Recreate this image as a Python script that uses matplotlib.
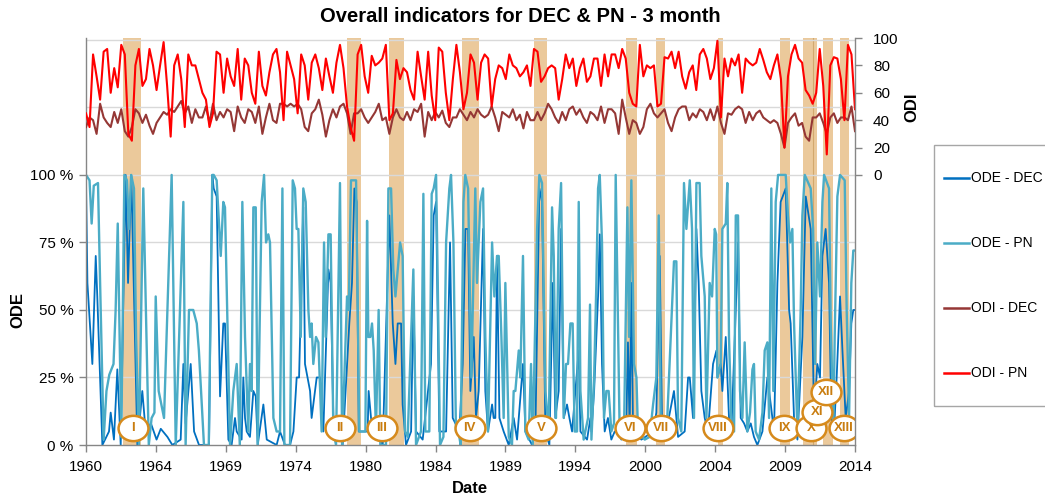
import numpy as np
import matplotlib
matplotlib.use("Agg")
import matplotlib.pyplot as plt
from matplotlib.path import Path
from matplotlib.transforms import Affine2D
from matplotlib.lines import Line2D
from matplotlib.patches import Rectangle

plt.rcParams['font.family'] = ['Liberation Sans', 'DejaVu Sans']

# ---------------- data ----------------
x_min, x_max = 1960.0, 2014.5
tick_labels = ["1960", "1964", "1969", "1974", "1980", "1984", "1989",
               "1994", "2000", "2004", "2009", "2014"]
ode_ticks = [0, 25, 50, 75, 100]
odi_ticks = [0, 20, 40, 60, 80, 100]

# ODI series, quarterly samples starting 1960 Q1
odi_start, odi_step = 1960.0, 0.25
odi_pn = [45,35,88,72,55,90,92,60,78,64, 95,88,30,25,80,92,65,70,92,80,
          62,80,97,65,28,80,88,70,35,88, 80,80,70,60,55,35,45,90,88,60,
          85,72,65,92,55,85,80,60,52,90, 65,58,75,88,92,75,40,90,80,70,
          45,88,80,55,82,88,78,62,85,72, 60,82,95,78,
          50,35,25,88,95,72,60,87,80,82, 85,95,40,45,84,70,78,75,62,55,
          90,72,55,90,58,40,93,90,60,40, 70,95,75,48,60,88,82,55,82,88,
          85,50,70,80,78,70,88,80,78,72, 75,80,65,92,90,68,72,78,80,78,
          55,70,88,78,85,65,78,85,68,72, 85,85,
          65,88,72,88,88,78,92,85,60,52, 50,95,72,80,78,80,50,52,86,85,
          90,78,90,72,63,75,80,62,88,92, 85,70,78,98,42,85,72,85,80,88,
          60,85,82,80,82,92,84,75,70,80, 88,70,20,72,88,95,85,82,62,58,
          52,60,92,65,15,80,86,85,70,40, 95,88,48]
odi_dec = [35,42,40,30,52,42,38,35,46,38, 48,32,28,35,48,45,38,44,36,30,
           38,42,46,44,48,46,50,54,45,50, 38,48,42,42,50,38,52,40,46,42,
           48,46,32,50,42,38,48,46,38,50, 30,42,52,40,38,52,52,50,52,50,
           52,48,35,32,45,48,55,44,28,40, 48,42,50,52,
           45,30,45,45,48,42,38,42,46,52, 40,42,30,42,48,42,40,46,40,48,
           46,52,28,46,40,46,42,47,38,35, 42,42,48,44,40,46,42,48,44,42,
           44,50,42,32,46,44,42,48,40,44, 34,46,40,40,46,40,45,52,48,42,
           38,46,40,48,50,44,48,42,38,46, 44,40,
           50,38,48,48,45,30,55,42,30,40, 38,30,35,48,52,45,42,45,48,38,
           32,42,48,50,50,40,45,42,48,46, 40,48,40,50,38,30,45,44,48,50,
           48,38,46,40,45,47,42,40,38,40, 38,30,20,38,42,45,36,38,28,25,
           42,42,45,38,30,42,45,38,42,42, 40,50,32]

# ODE series (decimal year, percent)
ode_pn = [(1960.00,100),(1960.25,98),(1960.40,82),(1960.55,96),(1960.85,97),(1961.00,60),
          (1961.25,2),(1961.45,20),(1961.65,26),(1961.95,30),(1962.10,50),(1962.25,82),
          (1962.50,3),(1962.72,100),(1962.90,98),(1963.05,80),(1963.20,100),(1963.40,95),
          (1963.55,40),(1963.75,0),(1964.06,95),(1964.45,0),(1964.65,10),(1964.85,12),
          (1964.94,55),(1965.15,20),(1965.53,10),(1966.07,100),(1966.36,0),(1966.90,90),
          (1967.06,0),(1967.30,50),(1967.60,50),(1967.85,45),(1968.00,35),(1968.36,0),
          (1968.70,0),(1968.95,100),
          (1969.05,100),(1969.26,98),(1969.55,70),(1969.73,90),(1969.85,88),(1970.21,0),
          (1970.44,20),(1970.68,30),(1970.90,0),(1971.08,90),(1971.27,40),(1971.50,5),
          (1971.62,30),(1971.74,20),(1971.86,88),(1972.03,88),(1972.17,0),(1972.45,90),
          (1972.62,100),(1972.76,75),(1972.92,78),(1973.04,75),(1973.28,10),(1973.51,5),
          (1973.75,5),(1973.92,95),(1974.06,0),(1974.46,0),(1974.65,98),(1974.81,95),
          (1974.93,80),(1975.05,80),(1975.22,40),(1975.40,95),(1975.57,90),(1975.76,50),
          (1975.88,40),(1975.99,45),(1976.11,30),(1976.30,40),(1976.47,38),(1976.70,5),
          (1976.87,75),(1976.99,40),(1977.18,78),(1977.34,78),(1977.53,5),(1977.72,0),
          (1978.00,97),(1978.15,0),(1978.50,55),(1978.62,50),(1978.78,98),(1979.14,98),
          (1979.26,50),(1979.37,5),(1979.80,5),(1979.92,83),(1980.01,40),(1980.15,40),
          (1980.27,45),(1980.39,35),(1980.55,5),(1980.74,50),(1980.86,0),(1981.26,0),
          (1981.43,95),(1981.62,95),(1981.78,65),(1981.93,55),(1982.26,75),(1982.44,70),
          (1982.61,5),(1982.80,3),(1983.20,65),(1983.39,0),(1983.74,5),(1983.91,93),
          (1984.05,5),(1984.33,5),(1984.50,93),(1984.64,95),(1984.81,100),(1984.93,60),
          (1985.09,0),(1985.33,3),(1985.52,75),(1985.75,95),(1985.87,100),(1986.04,75),
          (1986.22,5),(1986.40,5),(1986.55,0),(1986.75,90),(1986.88,100),
          (1987.08,95),(1987.31,25),(1987.59,95),(1987.71,60),(1987.95,90),(1988.14,95),
          (1988.30,40),(1988.49,5),(1988.78,75),(1988.94,55),(1989.13,70),(1989.25,70),
          (1989.44,40),(1989.60,10),(1989.72,60),(1989.96,3),(1990.19,0),(1990.31,20),
          (1990.43,20),(1990.67,35),(1990.78,25),(1990.97,70),(1991.14,5),(1991.37,2),
          (1991.54,30),(1991.66,0),(1991.97,80),(1992.13,100),(1992.32,97),(1992.56,20),
          (1992.79,5),(1993.03,88),(1993.15,70),(1993.31,10),(1993.50,80),(1993.67,97),
          (1993.86,10),(1994.02,30),(1994.16,30),(1994.33,45),(1994.49,45),(1994.63,5),
          (1994.80,5),(1994.92,90),(1995.04,20),(1995.27,2),(1995.58,10),(1995.72,52),
          (1995.82,2),(1996.01,25),(1996.17,60),(1996.29,95),(1996.41,100),(1996.57,75),
          (1996.71,10),(1996.88,20),(1997.04,20),(1997.23,5),(1997.42,8),(1997.54,100),
          (1997.66,60),(1997.82,5),(1998.13,5),(1998.37,88),(1998.49,40),(1998.65,98),
          (1998.84,30),(1999.01,25),(1999.12,5),(1999.60,2),(1999.95,3),(2000.19,15),
          (2000.42,25),(2000.59,85),(2000.73,10),(2000.90,3),(2001.13,2),(2001.67,68),
          (2001.84,68),(2001.96,10),(2002.19,5),(2002.38,97),(2002.55,80),(2002.79,98),
          (2002.95,80),(2003.09,10),(2003.26,97),(2003.49,97),(2003.61,70),(2003.85,55),
          (2003.97,10),(2004.20,60),(2004.37,55),(2004.56,80),(2004.66,78),
          (2004.75,25),(2004.98,30),(2005.10,80),(2005.34,82),(2005.45,97),(2005.57,40),
          (2005.74,8),(2005.93,5),(2006.05,85),(2006.21,85),(2006.35,20),(2006.52,10),
          (2006.68,38),(2006.87,5),(2007.06,12),(2007.23,28),(2007.34,30),(2007.46,5),
          (2007.70,2),(2007.94,12),(2008.10,35),(2008.29,38),(2008.41,10),(2008.57,95),
          (2008.71,20),(2008.88,90),(2009.05,100),(2009.59,100),(2009.75,85),(2009.90,75),
          (2010.06,80),(2010.18,45),(2010.42,5),(2010.65,50),(2010.77,85),(2010.94,100),
          (2011.36,95),(2011.53,80),(2011.67,30),(2011.83,75),(2012.02,55),(2012.19,90),
          (2012.31,100),(2012.66,95),(2012.78,45),(2012.97,5),(2013.06,40),(2013.25,92),
          (2013.44,100),(2013.77,98),(2013.91,50),(2014.08,10),(2014.24,60),(2014.38,72),
          (2014.50,72)]

ode_dec = [(1960.00,98),(1960.10,60),(1960.45,30),(1960.69,70),(1960.80,55),(1961.16,0),
           (1961.63,5),(1961.75,12),(1961.98,2),(1962.22,28),(1962.46,0),(1962.81,100),
           (1962.98,60),(1963.21,100),(1963.64,0),(1963.99,20),(1964.23,5),(1964.60,8),
           (1965.00,2),(1965.30,6),(1965.77,3),(1966.12,0),(1966.71,2),(1966.90,30),
           (1967.06,8),(1967.42,30),(1967.66,5),(1968.01,0),(1968.72,0),(1968.95,100),
           (1969.05,95),(1969.26,92),(1969.50,18),(1969.73,45),(1969.85,45),(1970.09,2),
           (1970.32,0),(1970.56,10),(1970.68,5),(1971.03,2),(1971.15,25),(1971.27,10),
           (1971.39,5),(1971.62,3),(1971.86,20),(1972.03,18),(1972.17,0),(1972.57,15),
           (1972.81,2),(1973.51,0),(1973.75,5),(1974.10,0),(1974.46,0),(1974.70,5),
           (1974.93,25),(1975.10,25),(1975.40,88),(1975.52,30),(1975.88,20),(1975.99,10),
           (1976.35,25),(1976.58,25),(1976.82,5),(1977.18,65),(1977.34,60),(1977.53,10),
           (1977.96,10),(1978.19,0),(1978.55,35),(1978.66,45),(1978.85,60),(1979.02,95),
           (1979.18,90),(1979.33,5),(1979.96,5),(1980.03,20),(1980.20,10),(1980.44,5),
           (1981.03,0),(1981.50,85),(1981.74,45),(1981.93,30),(1982.09,45),(1982.33,45),
           (1982.44,15),(1982.68,0),(1983.04,5),(1983.20,55),(1983.39,5),(1983.86,2),
           (1984.45,30),(1984.64,85),(1984.81,90),(1985.04,5),(1985.52,5),(1985.80,75),
           (1985.99,10),(1986.46,5),(1986.70,30),(1986.89,80),(1987.08,80),(1987.24,20),
           (1987.48,40),(1987.64,10),(1987.83,20),(1988.14,80),(1988.30,20),(1988.49,5),
           (1988.78,15),(1988.89,10),(1989.01,10),(1989.13,70),(1989.30,10),(1989.60,5),
           (1989.96,0),(1990.31,10),(1990.55,2),(1990.97,30),(1991.14,5),(1991.61,0),
           (1991.85,5),(1992.13,95),(1992.32,90),(1992.56,5),(1992.84,0),(1993.08,60),
           (1993.26,10),(1993.50,20),(1993.67,80),(1993.86,10),(1994.09,15),(1994.26,10),
           (1994.45,5),(1994.92,35),(1995.04,5),(1995.51,2),(1995.75,10),(1995.82,5),
           (1996.01,20),(1996.29,55),(1996.41,78),(1996.57,30),(1996.76,5),(1996.99,10),
           (1997.23,2),(1997.47,5),(1997.71,5),(1997.94,2),(1998.30,10),(1998.41,38),
           (1998.53,5),(1998.65,60),(1998.77,5),(1999.36,2),(2000.19,5),(2000.42,12),
           (2000.66,70),(2000.82,10),(2001.01,2),(2001.67,20),(2001.96,3),(2002.43,5),
           (2002.67,25),(2002.79,25),(2003.02,10),(2003.26,80),(2003.42,60),(2003.61,20),
           (2003.85,10),(2004.08,5),(2004.44,30),(2004.68,35),(2004.75,25),(2004.98,30),
           (2005.10,20),(2005.34,40),(2005.57,10),(2005.74,5),(2006.05,50),(2006.21,75),
           (2006.40,10),(2006.64,8),(2006.87,5),(2007.11,8),(2007.34,3),(2007.58,0),
           (2007.94,5),(2008.29,25),(2008.53,15),(2008.76,5),(2009.00,60),(2009.23,90),
           (2009.59,95),(2009.83,50),(2009.94,45),(2010.18,10),(2010.42,2),(2010.77,40),
           (2011.01,92),(2011.36,80),(2011.48,45),(2011.60,10),(2011.83,30),(2012.02,25),
           (2012.19,70),(2012.42,80),(2012.66,60),(2012.82,10),(2013.01,5),(2013.20,25),
           (2013.44,55),(2013.61,35),(2013.84,10),(2014.08,20),(2014.24,45),(2014.38,50),
           (2014.50,50)]

bands = [(1962.62,1963.90),(1978.50,1979.49),(1981.47,1982.54),(1986.65,1987.85),
         (1991.75,1992.67),(1998.27,1999.05),(2000.40,2001.03),(2004.79,2005.14),
         (2009.18,2009.89),(2010.81,2011.81),(2012.23,2012.94),(2013.43,2014.07)]
band_divider = 2011.52

events = [("I",1963.33,6.3),("II",1978.01,6.3),("III",1980.98,6.3),("IV",1987.2,6.3),
          ("V",1992.25,6.3),("VI",1998.55,6.3),("VII",2000.73,6.3),("VIII",2004.79,6.3),
          ("IX",2009.47,6.3),("X",2011.38,6.3),("XI",2011.81,12.2),("XII",2012.42,19.6),
          ("XIII",2013.72,6.3)]

# ---------------- styling ----------------
C_DEC = '#0070C0'
C_PN = '#4BACC6'
C_ODI_DEC = '#953735'
C_ODI_PN = '#FF0000'
C_BAND = '#EBC99B'
C_EV_EDGE = '#D68A1C'
C_EV_TEXT = '#C97D10'
C_AXIS = '#868686'
C_GRID = '#D9D9D9'

W, H = 1045, 498
fig = plt.figure(figsize=(W/100, H/100), dpi=100)
L, R, B, T = 86, 855, 445, 38
ax = fig.add_axes([L/W, 1-B/H, (R-L)/W, (B-T)/H])
ax.set_xlim(x_min, x_max)
ax.set_ylim(0, 150.7)

for s, e in bands:
    ax.axvspan(s, e, color=C_BAND, lw=0, zorder=0.5)
ax.axvline(band_divider, ymin=0, ymax=1, color='#D2A86E', lw=0.8, zorder=0.55)

for g in [25, 50, 75, 100, 125, 150]:
    ax.axhline(g, color=C_GRID, lw=1, zorder=0.6)

dt, dv = zip(*ode_dec)
pt, pv = zip(*ode_pn)
l1, = ax.plot(dt, dv, color=C_DEC, lw=1.3, zorder=2, label='ODE - DEC')
l2, = ax.plot(pt, pv, color=C_PN, lw=1.7, zorder=2.1, label='ODE - PN')

ax.set_yticks(ode_ticks)
ax.set_yticklabels([f"{t} %" for t in ode_ticks], fontsize=11)
ax.set_xticks(np.linspace(x_min, x_max, len(tick_labels)))
ax.set_xticklabels(tick_labels, fontsize=11)
ax.tick_params(axis='both', direction='out', length=5, color=C_AXIS, width=1)
ax.tick_params(axis='x', pad=6)
ax.tick_params(axis='y', pad=4)
for sp in ['top', 'right']:
    ax.spines[sp].set_visible(False)
for sp in ['left', 'bottom']:
    ax.spines[sp].set_color(C_AXIS)
    ax.spines[sp].set_linewidth(1)

ax2 = ax.twinx()
ax2.set_ylim(-197.1, 100)
odi_t = odi_start + odi_step * np.arange(len(odi_pn))
odi_t2 = odi_start + odi_step * np.arange(len(odi_dec))
l3, = ax2.plot(odi_t2, odi_dec, color=C_ODI_DEC, lw=1.5, zorder=2, label='ODI - DEC')
l4, = ax2.plot(odi_t, odi_pn, color=C_ODI_PN, lw=1.5, zorder=2.1, label='ODI - PN')
ax2.set_yticks(odi_ticks)
ax2.set_yticklabels([str(t) for t in odi_ticks], fontsize=11)
ax2.tick_params(axis='y', direction='out', length=5, color=C_AXIS, width=1, pad=8)
for sp in ['top', 'left', 'bottom']:
    ax2.spines[sp].set_visible(False)
ax2.spines['right'].set_color(C_AXIS)
ax2.spines['right'].set_linewidth(1)

# event markers (ellipse outlines with roman numerals)
ell = Path.unit_circle().transformed(Affine2D().scale(1.18, 1.0))
for i, (lab, ex, ey) in enumerate(events):
    ax.plot([ex], [ey], marker=ell, ms=21.5, mfc='white', mec=C_EV_EDGE, mew=1.8,
            ls='none', zorder=6 + i * 0.1)
    ax.text(ex, ey, lab, ha='center', va='center', color=C_EV_TEXT, fontsize=9.5,
            fontweight='bold', zorder=6.05 + i * 0.1)

# labels and title
fig.text(520/W, 1-17/H, 'Overall indicators for DEC & PN - 3 month', ha='center',
         va='center', fontsize=14.5, fontweight='bold')
fig.text(18/W, 1-310/H, 'ODE', rotation=90, ha='center', va='center',
         fontsize=12, fontweight='bold')
fig.text(912/W, 1-107/H, 'ODI', rotation=90, ha='center', va='center',
         fontsize=12, fontweight='bold')
fig.text(470/W, 1-488/H, 'Date', ha='center', va='center', fontsize=12,
         fontweight='bold')

# legend box drawn manually
fig.add_artist(Rectangle((934/W, 1-406/H), 130/W, 261/H, transform=fig.transFigure,
                         fill=False, ec='#A6A6A6', lw=1))
for k, ln in enumerate([l1, l2, l3, l4]):
    yy = 1 - (178 + 65*k)/H
    fig.add_artist(Line2D([944/W, 969/W], [yy, yy], transform=fig.transFigure,
                          color=ln.get_color(), lw=1.8))
    fig.text(971/W, yy, ln.get_label(), ha='left', va='center', fontsize=10)

fig.savefig('out.png', dpi=100)
